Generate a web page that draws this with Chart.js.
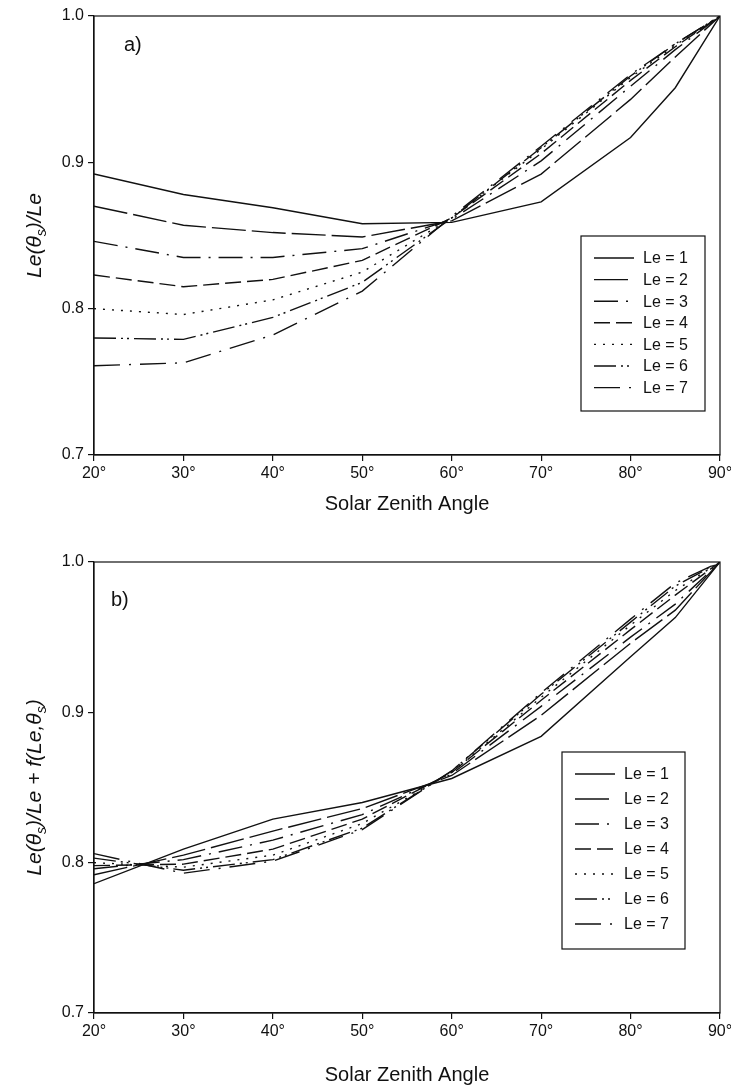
<!DOCTYPE html>
<html>
<head>
<meta charset="utf-8">
<script src="https://cdn.jsdelivr.net/npm/chart.js@4.4.1/dist/chart.umd.min.js"></script>
<style>
  html, body { margin: 0; padding: 0; background: #fff; overflow: hidden; }
  .panel { position: absolute; left: 0; width: 731px; }
  #panel-a { top: 0; height: 540px; }
  #panel-b { top: 540px; height: 551px; }
</style>
</head>
<body>
<div class="panel" id="panel-a"><canvas id="chart-a"></canvas></div>
<div class="panel" id="panel-b"><canvas id="chart-b"></canvas></div>
<script>
// ---- data ----
const angles   = [20, 30, 40, 50, 60, 70, 80, 85, 90];
const xTicks   = [20, 30, 40, 50, 60, 70, 80, 90];
const yTicks   = [0.7, 0.8, 0.9, 1.0];
const leLabels = ['Le = 1', 'Le = 2', 'Le = 3', 'Le = 4', 'Le = 5', 'Le = 6', 'Le = 7'];

// a) Le(θs)/Le
const ratioLe1 = [0.892, 0.878, 0.869, 0.858, 0.859, 0.873, 0.917, 0.951, 1.0];
const ratioLe2 = [0.870, 0.857, 0.852, 0.849, 0.860, 0.892, 0.943, 0.972, 1.0];
const ratioLe3 = [0.846, 0.835, 0.835, 0.841, 0.861, 0.901, 0.952, 0.977, 1.0];
const ratioLe4 = [0.823, 0.815, 0.820, 0.833, 0.862, 0.906, 0.956, 0.979, 1.0];
const ratioLe5 = [0.800, 0.796, 0.806, 0.825, 0.862, 0.909, 0.958, 0.980, 1.0];
const ratioLe6 = [0.780, 0.779, 0.794, 0.818, 0.862, 0.910, 0.959, 0.981, 1.0];
const ratioLe7 = [0.761, 0.763, 0.782, 0.812, 0.863, 0.911, 0.960, 0.981, 1.0];

// b) Le(θs)/Le + f(Le,θs)
const corrLe1 = [0.786, 0.809, 0.829, 0.840, 0.856, 0.884, 0.937, 0.963, 1.0];
const corrLe2 = [0.792, 0.805, 0.821, 0.836, 0.858, 0.898, 0.946, 0.968, 1.0];
const corrLe3 = [0.796, 0.802, 0.815, 0.832, 0.859, 0.904, 0.950, 0.972, 1.0];
const corrLe4 = [0.798, 0.799, 0.809, 0.829, 0.860, 0.908, 0.955, 0.978, 1.0];
const corrLe5 = [0.800, 0.797, 0.805, 0.826, 0.860, 0.910, 0.958, 0.981, 1.0];
const corrLe6 = [0.803, 0.795, 0.802, 0.823, 0.861, 0.912, 0.960, 0.984, 1.0];
const corrLe7 = [0.806, 0.793, 0.801, 0.822, 0.861, 0.913, 0.962, 0.986, 1.0];

// ---- styling ----
const INK  = '#111';
const FONT = '"Liberation Sans", Arial, sans-serif';
const dashes = [
    [],
    [34, 6],
    [24, 8, 2, 8],
    [16, 6],
    [2, 7],
    [22, 5, 2, 4, 2, 5],
    [26, 9, 2, 9]
];

// frame, panel letter, rotated y title with subscripts, legend box inside the plot
const decorations = {
    id: 'decorations',
    afterDraw(chart, args, opts) {
        const { ctx, chartArea: a } = chart;
        ctx.save();
        ctx.strokeStyle = INK;
        ctx.lineWidth = 1.2;
        ctx.strokeRect(a.left, a.top, a.right - a.left, a.bottom - a.top);

        // panel letter
        ctx.fillStyle = INK;
        ctx.font = `20px ${FONT}`;
        ctx.textBaseline = 'middle';
        ctx.textAlign = 'left';
        ctx.fillText(opts.letter, opts.letterX, opts.letterY);

        // y title
        drawRotated(ctx, opts.yTitle, opts.yTitleX, (a.top + a.bottom) / 2, 21);

        // legend
        const L = opts.legend;
        ctx.lineWidth = 1.2;
        ctx.strokeRect(L.x, L.y, L.w, L.h);
        ctx.font = `16px ${FONT}`;
        chart.data.datasets.forEach((ds, i) => {
            const y = L.y + L.first + i * L.step;
            ctx.lineWidth = ds.borderWidth;
            ctx.setLineDash(ds.borderDash);
            ctx.beginPath();
            ctx.moveTo(L.x + 13, y);
            ctx.lineTo(L.x + 53, y);
            ctx.stroke();
            ctx.setLineDash([]);
            ctx.fillText(ds.label, L.x + 62, y + 1);
        });
        ctx.restore();
    }
};

function drawRotated(ctx, parts, cx, cy, size) {
    ctx.save();
    ctx.translate(cx, cy);
    ctx.rotate(-Math.PI / 2);
    ctx.textAlign = 'left';
    ctx.textBaseline = 'middle';
    const fonts = parts.map(p => `italic ${p.sub ? Math.round(size * 0.68) : size}px ${FONT}`);
    const widths = parts.map((p, i) => { ctx.font = fonts[i]; return ctx.measureText(p.t).width; });
    let x = -widths.reduce((s, w) => s + w, 0) / 2;
    parts.forEach((p, i) => {
        ctx.font = fonts[i];
        ctx.fillText(p.t, x, p.sub ? size * 0.32 : 0);
        x += widths[i];
    });
    ctx.restore();
}

function buildChart(id, series, cfg) {
    const datasets = series.map((vals, i) => ({
        label: leLabels[i],
        data: angles.map((a, j) => ({ x: a, y: vals[j] })),
        borderColor: INK,
        borderWidth: 1.4,
        borderDash: dashes[i],
        pointRadius: 0,
        fill: false,
        tension: 0
    }));

    return new Chart(document.getElementById(id), {
        type: 'line',
        data: { datasets },
        plugins: [decorations],
        options: {
            responsive: true,
            maintainAspectRatio: false,
            animation: false,
            layout: { padding: { top: cfg.top, right: 11, left: 0, bottom: 0 } },
            plugins: {
                legend:  { display: false },
                tooltip: { enabled: false },
                decorations: cfg.deco
            },
            scales: {
                x: {
                    type: 'linear',
                    min: 20,
                    max: 90,
                    afterBuildTicks: s => { s.ticks = xTicks.map(v => ({ value: v })); },
                    afterFit: s => { s.height = cfg.xHeight; s.paddingLeft = 0; s.paddingRight = 0; },
                    ticks: {
                        callback: v => v + '°',
                        color: INK,
                        font: { family: FONT, size: 16 },
                        padding: 3,
                        maxRotation: 0,
                        autoSkip: false
                    },
                    grid:   { drawOnChartArea: false, tickLength: 6, color: INK, lineWidth: 1.2 },
                    border: { color: INK, width: 1.2 },
                    title: {
                        display: true,
                        text: 'Solar Zenith Angle',
                        color: INK,
                        font: { family: FONT, size: 20 },
                        padding: { top: 0, bottom: cfg.titlePad }
                    }
                },
                y: {
                    min: 0.7,
                    max: 1.0,
                    afterBuildTicks: s => { s.ticks = yTicks.map(v => ({ value: v })); },
                    afterFit: s => { s.width = 94; s.paddingTop = 0; s.paddingBottom = 0; },
                    ticks: {
                        callback: v => v.toFixed(1),
                        color: INK,
                        font: { family: FONT, size: 16 },
                        padding: 4
                    },
                    grid:   { drawOnChartArea: false, tickLength: 6, color: INK, lineWidth: 1.2 },
                    border: { color: INK, width: 1.2 }
                }
            }
        }
    });
}

buildChart('chart-a',
    [ratioLe1, ratioLe2, ratioLe3, ratioLe4, ratioLe5, ratioLe6, ratioLe7],
    {
        top: 16, xHeight: 85, titlePad: 24,
        deco: {
            letter: 'a)', letterX: 124, letterY: 45,
            yTitle: [{ t: 'Le(θ' }, { t: 's', sub: true }, { t: ')/Le' }], yTitleX: 35,
            legend: { x: 581, y: 236, w: 124, h: 175, first: 22, step: 21.6 }
        }
    });

buildChart('chart-b',
    [corrLe1, corrLe2, corrLe3, corrLe4, corrLe5, corrLe6, corrLe7],
    {
        top: 22, xHeight: 78, titlePad: 4,
        deco: {
            letter: 'b)', letterX: 111, letterY: 60,
            yTitle: [{ t: 'Le(θ' }, { t: 's', sub: true }, { t: ')/Le + f(Le,θ' }, { t: 's', sub: true }, { t: ')' }], yTitleX: 35,
            legend: { x: 562, y: 212, w: 123, h: 197, first: 22, step: 25 }
        }
    });
</script>
</body>
</html>
